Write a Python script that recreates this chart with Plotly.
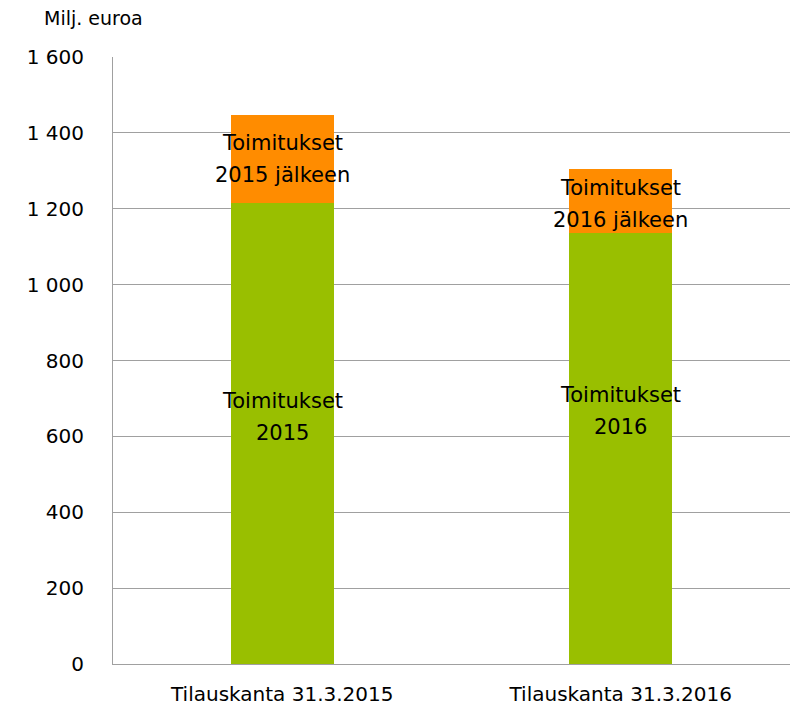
import plotly.graph_objects as go

categories = ["Tilauskanta 31.3.2015", "Tilauskanta 31.3.2016"]
deliveries_year = [1214, 1137]
deliveries_later = [232, 167]
labels_year = [["Toimitukset", "2015"], ["Toimitukset", "2016"]]
labels_later = [["Toimitukset", "2015 jälkeen"], ["Toimitukset", "2016 jälkeen"]]
tick_vals = [0, 200, 400, 600, 800, 1000, 1200, 1400, 1600]
tick_text = ["0", "200", "400", "600", "800", "1 000", "1 200", "1 400", "1 600"]

FONT = "DejaVu Sans, sans-serif"

fig = go.Figure()
fig.add_trace(go.Bar(x=categories, y=deliveries_year, marker_color="#99bf00",
                     marker_line_width=0, hoverinfo="y"))
fig.add_trace(go.Bar(x=categories, y=deliveries_later, marker_color="#ff8c00",
                     marker_line_width=0, hoverinfo="y"))


def add_label(cat, y, lines, shift):
    # two lines, set apart a bit more than plotly's default line height
    for j, line in enumerate(lines):
        fig.add_annotation(x=cat, y=y, text=line, showarrow=False,
                           yshift=shift + (16 if j == 0 else -16),
                           font=dict(size=21, color="black", family=FONT))


shifts_year = [17, 37]
shifts_later = [0, -3]
for i, cat in enumerate(categories):
    add_label(cat, deliveries_year[i] / 2, labels_year[i], shifts_year[i])
    add_label(cat, deliveries_year[i] + deliveries_later[i] / 2,
              labels_later[i], shifts_later[i])

fig.add_annotation(x=0, y=1, xref="paper", yref="paper", xshift=-71, yshift=39,
                   text="Milj. euroa", showarrow=False, xanchor="left", yanchor="middle",
                   font=dict(size=19, color="black", family=FONT))

fig.update_layout(
    barmode="stack",
    bargap=0.695,
    showlegend=False,
    width=802, height=708,
    margin=dict(l=113, r=12, t=57, b=44, autoexpand=False),
    plot_bgcolor="white", paper_bgcolor="white",
    font=dict(family=FONT, size=20, color="black"),
)
fig.update_yaxes(range=[0, 1600], tickvals=tick_vals, ticktext=tick_text,
                 showgrid=True, gridcolor="#a0a0a0", gridwidth=1,
                 showline=True, linecolor="#a0a0a0", linewidth=1,
                 ticks="outside", ticklen=24, tickcolor="rgba(0,0,0,0)",
                 zeroline=False, tickfont=dict(size=20, family=FONT))
fig.update_xaxes(showline=True, linecolor="#a0a0a0", linewidth=1,
                 ticks="outside", ticklen=12, tickcolor="rgba(0,0,0,0)",
                 tickfont=dict(size=20, family=FONT))

# drop the default 8px body margin so the figure fills the window exactly
fig.write_html("out.html", config={"displayModeBar": False},
               post_script="document.body.style.margin = '0';")
